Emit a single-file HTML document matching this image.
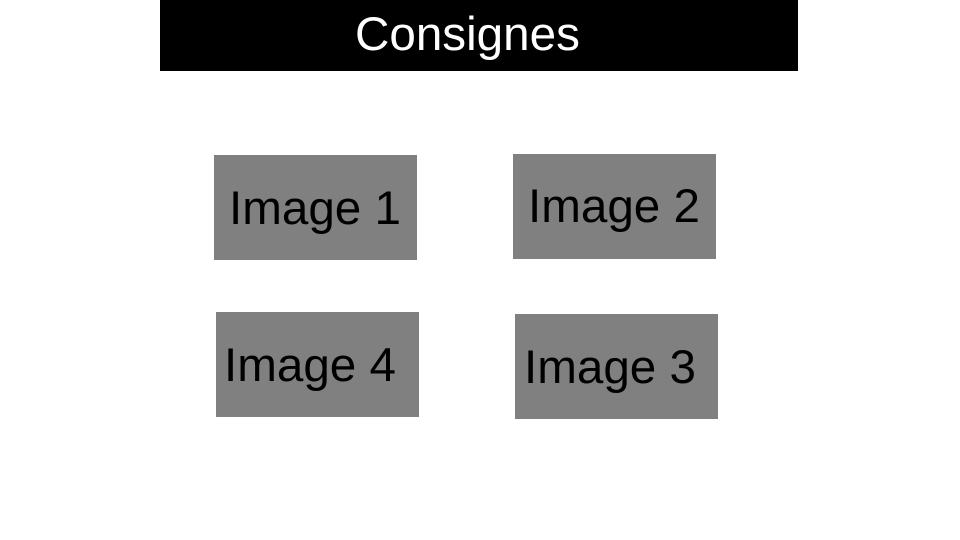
<!DOCTYPE html>
<html>
<head>
<meta charset="utf-8">
<style>
  html, body { margin: 0; padding: 0; }
  body {
    width: 960px;
    height: 540px;
    background: #fff;
    position: relative;
    overflow: hidden;
    font-family: "Liberation Sans", Arial, sans-serif;
  }
  .abs { position: absolute; }
  .header { left: 160px; top: 0; width: 638px; height: 71px; background: #000; }
  .txt { position: absolute; font-size: 47.6px; line-height: 47px; white-space: nowrap; }
  .box { position: absolute; background: #808080; width: 203px; height: 105px; }
</style>
</head>
<body>
  <div class="abs header"></div>
  <div class="txt" style="left:355px; top:11px; color:#fff;">Consignes</div>

  <div class="box" style="left:214px; top:155px;"></div>
  <div class="txt" style="left:229px; top:185px;">Image 1</div>

  <div class="box" style="left:513px; top:154px;"></div>
  <div class="txt" style="left:528px; top:183px;">Image 2</div>

  <div class="box" style="left:216px; top:312px;"></div>
  <div class="txt" style="left:224px; top:342px;">Image 4</div>

  <div class="box" style="left:515px; top:314px;"></div>
  <div class="txt" style="left:524px; top:344px;">Image 3</div>
</body>
</html>
